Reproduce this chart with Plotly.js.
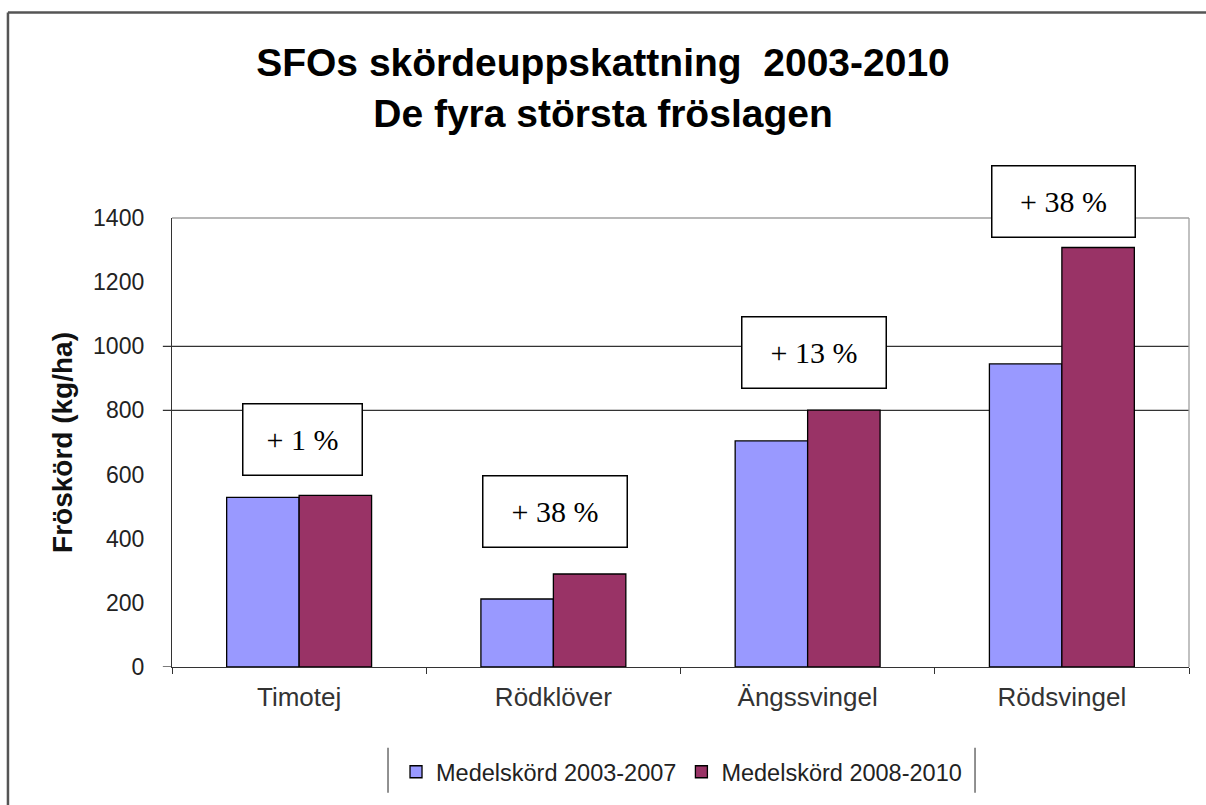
<!DOCTYPE html>
<html><head><meta charset="utf-8">
<script src="https://cdn.plot.ly/plotly-3.0.1.min.js"></script>
<style>html,body{margin:0;padding:0;background:#fff;overflow:hidden;} #chart{width:1206px;height:805px;}</style>
</head><body><div id="chart"></div>
<script>
// ---- data ----
const categories = ['Timotej', 'Rödklöver', 'Ängssvingel', 'Rödsvingel'];
const series1Name = 'Medelskörd 2003-2007';
const series2Name = 'Medelskörd 2008-2010';
const series1Values = [529, 212, 705, 945];
const series2Values = [535, 290, 801, 1308];
const changeLabels = ['+ 1 %', '+ 38 %', '+ 13 %', '+ 38 %'];
const yTickValues = [0, 200, 400, 600, 800, 1000, 1200, 1400];
const gridValues = [800, 1000];

// ---- styling / placement ----
const blue = '#9999FF';
const plum = '#993366';
const labelPos = [ // paper y of box centre, x shift px, box width px
  {y: 0.5067, dx: 3, w: 116},
  {y: 0.3467, dx: 1.5, w: 141},
  {y: 0.7011, dx: 6.5, w: 141},
  {y: 1.0378, dx: 2, w: 140}
];

const traces = [
  {type: 'bar', name: series1Name, x: categories, y: series1Values,
   marker: {color: blue, line: {color: '#000', width: 1.3}}},
  {type: 'bar', name: series2Name, x: categories, y: series2Values,
   marker: {color: plum, line: {color: '#000', width: 1.3}}}
];

const shapes = [];
gridValues.forEach(v => shapes.push({type: 'line', xref: 'paper', yref: 'y',
  x0: -0.009, x1: 1, y0: v, y1: v, layer: 'below', line: {color: '#333', width: 1.3}}));
// zero tick extension
shapes.push({type: 'line', xref: 'paper', yref: 'y', x0: -0.009, x1: 0, y0: 0, y1: 0,
  line: {color: '#333', width: 1.3}});
// top / right plot border
shapes.push({type: 'line', xref: 'paper', yref: 'paper', x0: 0, x1: 1, y0: 1, y1: 1,
  layer: 'below', line: {color: '#a0a0a0', width: 1.3}});
shapes.push({type: 'line', xref: 'paper', yref: 'paper', x0: 1, x1: 1, y0: 0, y1: 1,
  layer: 'below', line: {color: '#a0a0a0', width: 1.3}});
// outer frame (left and top edges visible)
shapes.push({type: 'line', xref: 'paper', yref: 'paper',
  x0: -0.1613, x1: -0.1613, y0: -0.4, y1: 1.4578, layer: 'below',
  line: {color: '#555', width: 2.5}});
shapes.push({type: 'line', xref: 'paper', yref: 'paper',
  x0: -0.1613, x1: 1.2, y0: 1.4578, y1: 1.4578, layer: 'below',
  line: {color: '#555', width: 2.5}});
// legend side bars
shapes.push({type: 'line', xref: 'paper', yref: 'paper', x0: 0.2124, x1: 0.2124,
  y0: -0.18, y1: -0.28, line: {color: '#555', width: 1.3}});
shapes.push({type: 'line', xref: 'paper', yref: 'paper', x0: 0.7896, x1: 0.7896,
  y0: -0.18, y1: -0.28, line: {color: '#555', width: 1.3}});

const annotations = changeLabels.map((t, i) => ({
  xref: 'x', yref: 'paper', x: categories[i], y: labelPos[i].y,
  xanchor: 'center', yanchor: 'middle',
  xshift: labelPos[i].dx, text: t, showarrow: false,
  font: {family: 'Liberation Serif, Times New Roman, serif', size: 30, color: '#000'},
  bgcolor: '#fff', bordercolor: '#000', borderwidth: 1.5, borderpad: 1,
  width: labelPos[i].w, height: 68, align: 'center', valign: 'middle'
}));

const layout = {
  width: 1206, height: 805,
  margin: {l: 172, r: 17, t: 218, b: 137},
  paper_bgcolor: '#fff', plot_bgcolor: '#fff',
  font: {family: 'Liberation Sans, Arial, sans-serif', color: '#222'},
  title: {
    text: '<b>SFOs skördeuppskattning  2003-2010<br>De fyra största fröslagen</b>',
    font: {family: 'Liberation Sans, Arial, sans-serif', size: 39, color: '#000'},
    x: 0.5, xanchor: 'center', xref: 'container',
    y: 0.905, yanchor: 'top', yref: 'container'
  },
  barmode: 'group', bargap: 0.43, bargroupgap: 0,
  xaxis: {
    type: 'category', showgrid: false, showline: true, linecolor: '#333', linewidth: 1.3,
    ticks: 'outside', tickson: 'boundaries', ticklen: 6, tickcolor: '#333', tickwidth: 1.3,
    tickfont: {size: 26, color: '#333'}, ticklabelstandoff: 7, zeroline: false
  },
  yaxis: {
    range: [0, 1400], tickvals: yTickValues, showgrid: false, zeroline: false,
    showline: true, linecolor: '#333', linewidth: 1.3, ticks: '',
    tickfont: {size: 23, color: '#222'}, ticklabelstandoff: 22,
    title: {text: '<b>Fröskörd (kg/ha)</b>', font: {size: 28, color: '#111'}, standoff: 12}
  },
  showlegend: true,
  legend: {
    orientation: 'h', x: 0.501, xanchor: 'center', y: -0.231, yanchor: 'middle',
    font: {size: 23.5, color: '#222'}, bgcolor: 'rgba(0,0,0,0)', borderwidth: 0,
    itemwidth: 30, tracegroupgap: 0
  },
  shapes: shapes,
  annotations: annotations
};

Plotly.newPlot('chart', traces, layout, {displayModeBar: false, responsive: false});
</script>
</body></html>
